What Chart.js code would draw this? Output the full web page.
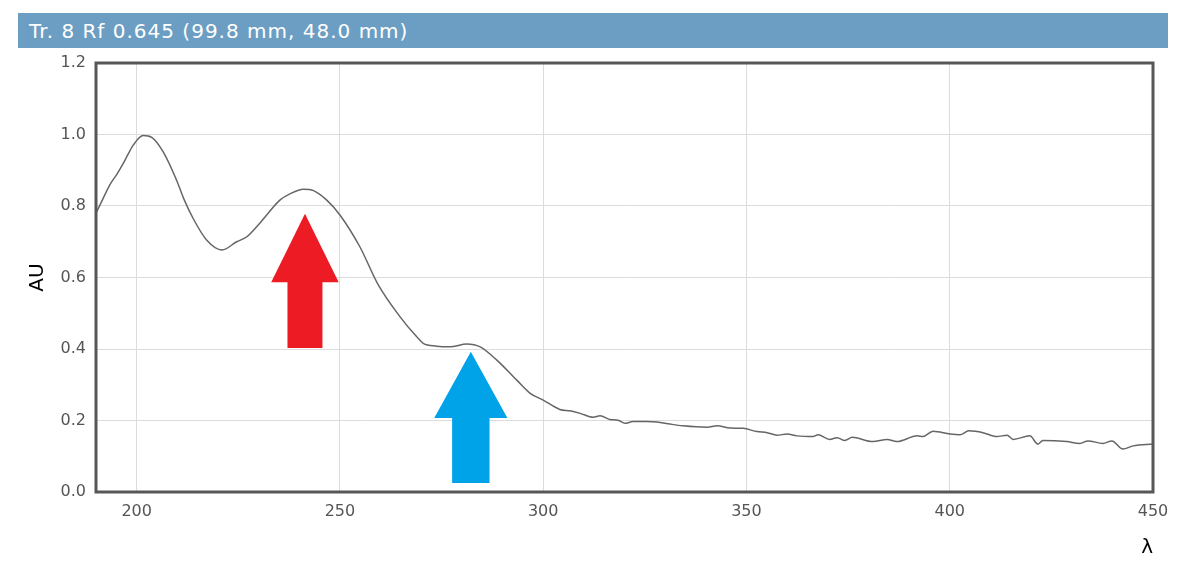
<!DOCTYPE html>
<html>
<head>
<meta charset="utf-8">
<script src="https://cdn.jsdelivr.net/npm/chart.js@4"></script>
<style>
  body { margin: 0; background: #fff; }
  #wrap { position: relative; width: 1200px; height: 572px; }
  #bar {
    position: absolute; left: 18px; top: 13px; width: 1150px; height: 35px;
    background: #6c9ec3; color: #fff;
    font-family: "DejaVu Sans", Verdana, sans-serif; font-size: 20px; letter-spacing: 1px;
    line-height: 36px; box-sizing: border-box; padding-left: 11px;
  }
</style>
</head>
<body>
<div id="wrap">
  <canvas id="myChart" width="1200" height="572"></canvas>
  <div id="bar">Tr. 8 Rf 0.645 (99.8 mm, 48.0 mm)</div>
</div>
<script>
const ctx = document.getElementById('myChart');

// spectrum
const wavelength = [190.0, 191.7, 193.4, 195.2, 196.7, 197.9, 199.2, 201.6, 203.7, 206.6,
  209.9, 211.6, 213.9, 217.2, 221.0, 224.6, 227.1, 230.3, 235.3, 237.7,
  241.0, 243.5, 246.7, 250.0, 254.9, 259.4, 264.8, 268.9, 270.5, 273.8,
  277.1, 281.2, 284.5, 288.6, 293.5, 296.8, 300.0, 304.1, 306.6, 309.1,
  312.3, 314.0, 316.4, 318.4, 320.1, 322.1, 325.5, 328.0, 331.2, 334.4,
  340.3, 342.8, 346.0, 349.2, 352.6, 355.1, 357.5, 360.0, 362.4, 366.4,
  367.6, 370.5, 372.3, 374.2, 376.0, 381.1, 384.6, 387.0, 392.0, 393.4,
  395.9, 400.1, 402.5, 404.7, 408.2, 411.6, 414.1, 415.6, 419.7, 421.7,
  422.9, 428.8, 432.0, 434.0, 437.7, 439.9, 442.6, 445.1, 450.0];
const absorbance = [0.780, 0.820, 0.859, 0.890, 0.919, 0.945, 0.971, 0.997, 0.992, 0.950,
  0.870, 0.820, 0.765, 0.705, 0.677, 0.700, 0.714, 0.752, 0.817, 0.834,
  0.847, 0.843, 0.817, 0.775, 0.686, 0.580, 0.490, 0.434, 0.416, 0.408,
  0.406, 0.414, 0.406, 0.369, 0.313, 0.276, 0.257, 0.231, 0.227, 0.220,
  0.209, 0.213, 0.203, 0.201, 0.192, 0.197, 0.197, 0.196, 0.190, 0.185,
  0.181, 0.185, 0.179, 0.178, 0.169, 0.166, 0.159, 0.162, 0.157, 0.155,
  0.160, 0.147, 0.152, 0.144, 0.153, 0.141, 0.147, 0.141, 0.157, 0.155,
  0.170, 0.162, 0.160, 0.171, 0.166, 0.155, 0.159, 0.147, 0.157, 0.134,
  0.144, 0.141, 0.136, 0.143, 0.136, 0.143, 0.120, 0.129, 0.134];

const xTicks = [200, 250, 300, 350, 400, 450];
const yTicks = [0, 0.2, 0.4, 0.6, 0.8, 1.0, 1.2];

// arrows in data units: tip, head base, head half width, shaft half width, shaft bottom
const arrowColor = ['#ed1c24', '#00a2e8'];
const arrowX = [241.4, 282.2];
const arrowTip = [0.778, 0.392];
const arrowBase = [0.587, 0.207];
const arrowBottom = [0.403, 0.025];
const arrowHead = [8.3, 9.0];
const arrowShaft = [4.3, 4.6];

let points = wavelength.map((w, i) => ({ x: w, y: absorbance[i] }));

const arrows = {
  id: 'arrows',
  afterDatasetsDraw(chart) {
    const c = chart.ctx, xs = chart.scales.x, ys = chart.scales.y;
    for (let i = 0; i < arrowX.length; i++) {
      const px = v => xs.getPixelForValue(v), py = v => ys.getPixelForValue(v);
      c.save();
      c.fillStyle = arrowColor[i];
      c.beginPath();
      c.moveTo(px(arrowX[i]), py(arrowTip[i]));
      c.lineTo(px(arrowX[i] + arrowHead[i]), py(arrowBase[i]));
      c.lineTo(px(arrowX[i] + arrowShaft[i]), py(arrowBase[i]));
      c.lineTo(px(arrowX[i] + arrowShaft[i]), py(arrowBottom[i]));
      c.lineTo(px(arrowX[i] - arrowShaft[i]), py(arrowBottom[i]));
      c.lineTo(px(arrowX[i] - arrowShaft[i]), py(arrowBase[i]));
      c.lineTo(px(arrowX[i] - arrowHead[i]), py(arrowBase[i]));
      c.closePath();
      c.fill();
      c.restore();
    }
    // frame round the plot
    const a = chart.chartArea;
    c.save();
    c.strokeStyle = '#575757';
    c.lineWidth = 3;
    c.strokeRect(a.left, a.top, a.right - a.left, a.bottom - a.top);
    c.restore();
  }
};

Chart.defaults.font.family = '"DejaVu Sans", Verdana, sans-serif';

new Chart(ctx, {
  type: 'line',
  data: {
    datasets: [{
      data: points,
      borderColor: '#666666',
      borderWidth: 1.5,
      pointRadius: 0,
      cubicInterpolationMode: 'monotone',
      fill: false
    }]
  },
  options: {
    responsive: false,
    animation: false,
    layout: { padding: { top: 63, right: 47, left: 0, bottom: 0 } },
    plugins: { legend: { display: false }, tooltip: { enabled: false } },
    scales: {
      x: {
        type: 'linear',
        min: 190,
        max: 450,
        afterFit: s => { s.height = 80; },
        afterBuildTicks: s => { s.ticks = xTicks.map(v => ({ value: v })); },
        ticks: { color: '#555', font: { size: 16 }, padding: 10 },
        grid: { color: '#dcdcdc', lineWidth: 1, drawTicks: false },
        border: { display: false },
        title: { display: true, text: 'λ', align: 'end', color: '#000', font: { size: 20 }, padding: { bottom: 12 } }
      },
      y: {
        min: 0,
        max: 1.2,
        afterFit: s => { s.width = 96; },
        afterBuildTicks: s => { s.ticks = yTicks.map(v => ({ value: v })); },
        ticks: { color: '#555', font: { size: 16 }, padding: 10, callback: v => v.toFixed(1) },
        grid: { color: '#dcdcdc', lineWidth: 1, drawTicks: false },
        border: { display: false },
        title: { display: true, text: 'AU', color: '#000', font: { size: 20 }, padding: { top: 26 } }
      }
    }
  },
  plugins: [arrows]
});
</script>
</body>
</html>
